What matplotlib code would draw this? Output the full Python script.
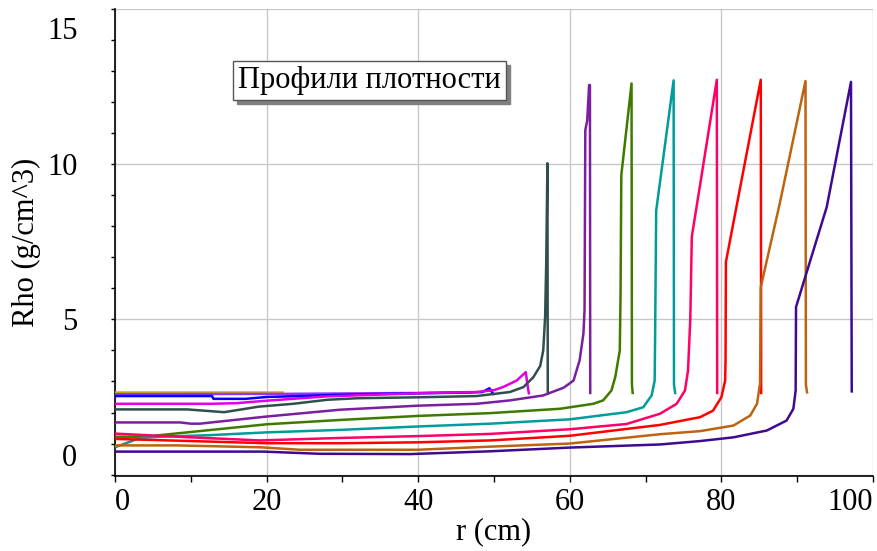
import matplotlib
matplotlib.use("Agg")
import matplotlib.pyplot as plt
import matplotlib.transforms as mtransforms
from matplotlib.ticker import MultipleLocator

plt.rcParams['font.family'] = ['Liberation Serif', 'DejaVu Serif']

# density profiles rho(r), one per time step
r_0 = [0, 22]
rho_0 = [2.66, 2.66]

r_1 = [0, 22, 40, 47]
rho_1 = [2.59, 2.6, 2.63, 2.65]

r_2 = [0, 12.8, 13.0, 17.2, 20, 30, 40, 46, 48.5, 49.4, 49.9]
rho_2 = [2.53, 2.53, 2.44, 2.44, 2.5, 2.57, 2.62, 2.64, 2.66, 2.78, 2.6]

r_3 = [0, 12.5, 16, 20, 28, 40, 47.7, 50, 51.2, 53, 54.2, 54.4, 54.6]
rho_3 = [2.28, 2.28, 2.3, 2.38, 2.52, 2.62, 2.66, 2.72, 2.82, 3.03, 3.3, 2.92, 2.62]

r_4 = [0, 9.5, 14.4, 19, 23.5, 28, 32, 40, 47.7, 52.1, 53.9, 55.2, 56.1, 56.5,
       56.75, 56.9, 57.05, 57.1]
rho_4 = [2.1, 2.1, 2.01, 2.19, 2.28, 2.41, 2.46, 2.49, 2.53, 2.66, 2.82, 3.14, 3.5, 4.0,
         5.1, 6.9, 10.03, 2.62]

r_5 = [0, 8.6, 10, 11.2, 20, 29.7, 40, 47.7, 52.1, 56.5, 59.2, 60.5, 61.3, 61.8,
       61.95, 62.05, 62.3, 62.55, 62.66, 62.7]
rho_5 = [1.68, 1.68, 1.64, 1.64, 1.87, 2.09, 2.22, 2.28, 2.39, 2.55, 2.8, 3.03, 3.68, 4.54,
         5.3, 11.1, 11.4, 12.55, 12.55, 2.63]

r_6 = [0, 4.5, 5.5, 20, 29.7, 40, 49.5, 58.7, 63.1, 64.4, 65.5, 66, 66.6, 66.7, 66.8,
       68.15, 68.2, 68.3]
rho_6 = [1.22, 1.22, 1.26, 1.62, 1.76, 1.89, 1.98, 2.12, 2.28, 2.39, 2.71, 3.14, 4.0, 5.83, 9.65,
         12.6, 2.9, 2.63]

r_7 = [0, 3.3, 6, 12.5, 20, 29.7, 40, 49.5, 60, 67.5, 69.7, 70.8, 71.2, 71.25, 71.4,
       73.7, 73.75, 73.9]
rho_7 = [0.88, 1.18, 1.22, 1.27, 1.36, 1.44, 1.55, 1.64, 1.78, 2.01, 2.17, 2.55, 3.03, 4.2, 8.5,
         12.7, 2.9, 2.63]

r_8 = [0, 10, 19.1, 29.7, 40, 49.5, 60, 67.5, 71.9, 74.1, 75.2, 75.6, 75.9, 76.1, 79.4, 79.45]
rho_8 = [1.32, 1.2, 1.1, 1.18, 1.24, 1.31, 1.46, 1.63, 1.96, 2.28, 2.71, 3.35, 5.0, 7.66, 12.72, 2.63]

r_9 = [0, 10, 20, 30, 40, 49.5, 60, 71.9, 77.2, 78.9, 80, 80.5, 80.55, 80.6, 85.2, 85.25]
rho_9 = [1.15, 1.08, 1.01, 1.01, 1.04, 1.1, 1.25, 1.6, 1.85, 2.06, 2.49, 3.03, 3.68, 6.85, 12.72, 2.63]

r_10 = [0, 8.1, 19.1, 24.4, 40, 49.5, 60, 71.9, 77.2, 81.6, 83.8, 84.7, 85.1, 85.2, 87.7,
        91.1, 91.15, 91.3]
rho_10 = [0.94, 0.94, 0.88, 0.8, 0.8, 0.9, 1.0, 1.3, 1.4, 1.58, 1.9, 2.28, 2.93, 6.04, 8.73,
          12.68, 2.9, 2.65]

r_11 = [0, 19.6, 27, 38.9, 49.5, 60, 71.9, 77.2, 81.6, 86, 88.6, 89.5, 89.8, 89.85, 93.9,
        97.1, 97.2]
rho_11 = [0.74, 0.74, 0.67, 0.66, 0.75, 0.87, 0.97, 1.08, 1.2, 1.42, 1.74, 2.12, 2.71, 5.4, 8.62,
          12.65, 2.68]

profiles = [(r_0, rho_0), (r_1, rho_1), (r_2, rho_2), (r_3, rho_3), (r_4, rho_4), (r_5, rho_5),
            (r_6, rho_6), (r_7, rho_7), (r_8, rho_8), (r_9, rho_9), (r_10, rho_10), (r_11, rho_11)]

colors = ["#C4B200", "#9A32FF", "#0000FF", "#E000E0", "#2F4F4F", "#7A1FA0",
          "#3F7A00", "#009B9B", "#FF0066", "#FF0000", "#BC6410", "#3F0A8F"]

x_ticks = [0, 20, 40, 60, 80, 100]
y_ticks = [0, 5, 10, 15]

fig = plt.figure(figsize=(8.77, 5.51), dpi=100)
ax = fig.add_axes([0.1311, 0.137, 0.8643, 0.8467])

for (r, rho), c in zip(profiles, colors):
    ax.plot(r, rho, color=c, linewidth=1.8, solid_joinstyle="round", zorder=3)

ax.set_xlim(0, 100)
ax.set_ylim(-0.03, 15)

ax.set_xticks(x_ticks, [str(v) for v in x_ticks])
ax.set_yticks(y_ticks, [str(v) for v in y_ticks])
ax.xaxis.set_minor_locator(MultipleLocator(10))
ax.yaxis.set_minor_locator(MultipleLocator(1))

ax.grid(True, which="major", color="#C8C8C8", linewidth=1.0, zorder=0)
ax.set_axisbelow(True)

for side in ["top", "right"]:
    ax.spines[side].set_visible(False)
for side in ["left", "bottom"]:
    ax.spines[side].set_linewidth(1.2)
    ax.spines[side].set_color("black")

ax.tick_params(axis="x", which="both", direction="out", length=4, width=1, labelsize=22, pad=5)
ax.tick_params(axis="y", which="both", direction="out", length=3, width=1, labelsize=22, pad=24)

ax.set_xlabel("r (cm)", fontsize=22, labelpad=0)
ax.set_ylabel("Rho (g/cm^3)", fontsize=22, labelpad=4)

# edge tick labels are pulled inside, as in the original plot
xlabels = ax.get_xticklabels()
xlabels[0].set_horizontalalignment("left")
xlabels[-1].set_horizontalalignment("right")

ylabels = ax.get_yticklabels()
up = mtransforms.ScaledTranslation(0, 20 / 100, fig.dpi_scale_trans)
down = mtransforms.ScaledTranslation(0, -19 / 100, fig.dpi_scale_trans)
ylabels[0].set_transform(ylabels[0].get_transform() + up)
ylabels[-1].set_transform(ylabels[-1].get_transform() + down)

title = "Профили плотности"
shadow = mtransforms.ScaledTranslation(4 / 100, -4 / 100, fig.dpi_scale_trans)
ax.text(0.336, 0.846, title, transform=ax.transAxes + shadow, ha="center", va="center",
        fontsize=22, color="#808080", zorder=5,
        bbox=dict(boxstyle="square,pad=0.16", fc="#808080", ec="#808080"))
ax.text(0.336, 0.846, title, transform=ax.transAxes, ha="center", va="center",
        fontsize=22, color="black", zorder=6,
        bbox=dict(boxstyle="square,pad=0.16", fc="white", ec="#555555", lw=1))

fig.savefig("out.png", dpi=100)
